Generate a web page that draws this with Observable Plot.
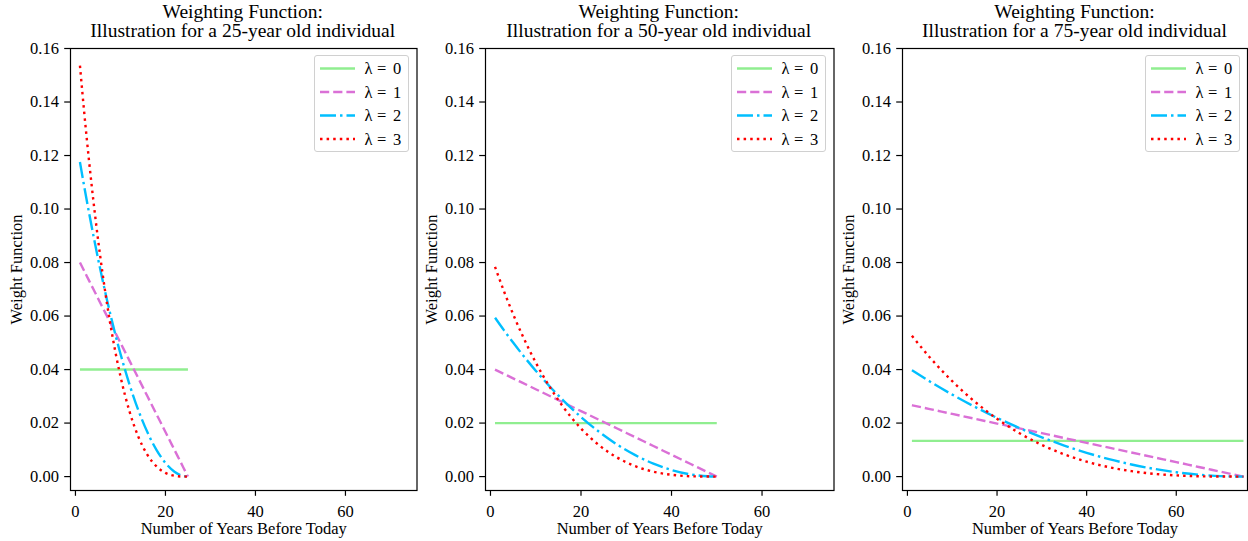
<!DOCTYPE html>
<html>
<head>
<meta charset="utf-8">
<script src="https://cdn.jsdelivr.net/npm/d3@7"></script>
<script src="https://cdn.jsdelivr.net/npm/@observablehq/plot@0.6"></script>
<style>
  html, body { margin: 0; padding: 0; background: #fff; }
  #root { position: relative; width: 1248px; height: 541px; overflow: hidden; font-family: "Liberation Serif", "DejaVu Serif", serif; }
  .title { position: absolute; text-align: center; font-size: 19.5px; line-height: 19px; color: #000; white-space: nowrap; }
  .legend { position: absolute; background: rgba(255,255,255,0.8); border: 1px solid #d0d0d0; border-radius: 3px; box-sizing: border-box; }
  svg { overflow: visible; }
</style>
</head>
<body>
<div id="root"></div>
<script>
// ---------------- data ----------------
const ages = [25, 50, 75];
const titles = [
  "Weighting Function:\nIllustration for a 25-year old individual",
  "Weighting Function:\nIllustration for a 50-year old individual",
  "Weighting Function:\nIllustration for a 75-year old individual"
];
const lambdaValues = ["0", "1", "2", "3"];
const lambdaColors = ["#90EE90", "#DA70D6", "#00BFFF", "#FF0000"];
const xTicks = [0, 20, 40, 60];
const yTicks = [0, 0.02, 0.04, 0.06, 0.08, 0.10, 0.12, 0.14, 0.16];

// 25-year old
const years25 = [1, 2, 3, 4, 5, 6, 7, 8, 10, 12, 14, 16, 18, 20, 22, 24, 25];
const w25_l0 = [0.04, 0.04, 0.04, 0.04, 0.04, 0.04, 0.04, 0.04, 0.04, 0.04, 0.04, 0.04, 0.04, 0.04, 0.04, 0.04, 0.04];
const w25_l1 = [0.0800, 0.07667, 0.07333, 0.0700, 0.06667, 0.06333, 0.0600, 0.05667, 0.0500, 0.04333, 0.03667, 0.0300, 0.02333, 0.01667, 0.0100, 0.00333, 0];
const w25_l2 = [0.11755, 0.10796, 0.09878, 0.0900, 0.08163, 0.07367, 0.06612, 0.05898, 0.04592, 0.03449, 0.02469, 0.01653, 0.0100, 0.0051, 0.00184, 0.0002, 0];
const w25_l3 = [0.1536, 0.13519, 0.11831, 0.1029, 0.08889, 0.07621, 0.0648, 0.05459, 0.0375, 0.02441, 0.01479, 0.0081, 0.00381, 0.00139, 0.0003, 0.00001, 0];

// 50-year old
const years50 = [1, 3, 5, 7, 10, 13, 16, 20, 24, 28, 32, 36, 40, 44, 48, 50];
const w50_l0 = [0.02, 0.02, 0.02, 0.02, 0.02, 0.02, 0.02, 0.02, 0.02, 0.02, 0.02, 0.02, 0.02, 0.02, 0.02, 0.02];
const w50_l1 = [0.0400, 0.03837, 0.03673, 0.0351, 0.03265, 0.0302, 0.02776, 0.02449, 0.02122, 0.01796, 0.01469, 0.01143, 0.00816, 0.0049, 0.00163, 0];
const w50_l2 = [0.05939, 0.05464, 0.05009, 0.04574, 0.03958, 0.03387, 0.0286, 0.02226, 0.01672, 0.01197, 0.00801, 0.00485, 0.00247, 0.00089, 0.0001, 0];
const w50_l3 = [0.0784, 0.06919, 0.06072, 0.05298, 0.04265, 0.03375, 0.02619, 0.01799, 0.01171, 0.0071, 0.00389, 0.00183, 0.00067, 0.00014, 0.00001, 0];

// 75-year old
const years75 = [1, 5, 10, 15, 20, 25, 30, 35, 40, 45, 50, 55, 60, 65, 70, 75];
const w75_l0 = [0.01333, 0.01333, 0.01333, 0.01333, 0.01333, 0.01333, 0.01333, 0.01333, 0.01333, 0.01333, 0.01333, 0.01333, 0.01333, 0.01333, 0.01333, 0.01333];
const w75_l1 = [0.02667, 0.02523, 0.02342, 0.02162, 0.01982, 0.01802, 0.01622, 0.01441, 0.01261, 0.01081, 0.00901, 0.00721, 0.00541, 0.0036, 0.0018, 0];
const w75_l2 = [0.03973, 0.03555, 0.03065, 0.02612, 0.02195, 0.01814, 0.01469, 0.01161, 0.00889, 0.00653, 0.00453, 0.0029, 0.00163, 0.00073, 0.00018, 0];
const w75_l3 = [0.05262, 0.04454, 0.03566, 0.02805, 0.0216, 0.01623, 0.01183, 0.00831, 0.00557, 0.00351, 0.00203, 0.00104, 0.00044, 0.00013, 0.00002, 0];

// ---------------- layout ----------------
const panelYears = [years25, years50, years75];
const panelSeries = [
  [w25_l0, w25_l1, w25_l2, w25_l3],
  [w50_l0, w50_l1, w50_l2, w50_l3],
  [w75_l0, w75_l1, w75_l2, w75_l3]
];
const frameLeft = [69.5, 484.5, 902];
const frameRight = [416, 833, 1247];
const dashes = [null, "9.2,4", "16,4,2.5,4", "2.5,4.1"];
const LW = 2.4;
const FS = 16.5;
const MT = 48, MB = 51, H = 541;

const root = document.getElementById("root");

panelYears.forEach((years, p) => {
  const svgLeft = frameLeft[p] - 70;
  const marginLeft = frameLeft[p] - svgLeft;
  const marginRight = 1;
  const width = frameRight[p] - svgLeft + marginRight;

  const marks = [];
  panelSeries[p].forEach((vals, s) => {
    const rows = years.map((yr, i) => ({year: yr, w: vals[i]}));
    marks.push(Plot.line(rows, {
      x: "year", y: "w",
      stroke: lambdaColors[s],
      strokeWidth: LW,
      strokeDasharray: dashes[s] || undefined,
      strokeLinecap: "butt",
      curve: "monotone-x"
    }));
  });

  const chart = Plot.plot({
    width, height: H,
    marginLeft, marginRight, marginTop: MT, marginBottom: MB,
    style: {fontFamily: "'Liberation Serif', serif", fontSize: FS + "px", color: "#000", background: "transparent", overflow: "visible"},
    x: {domain: [-1.1, 75.9]},
    y: {domain: [-0.0052, 0.16]},
    marks: [
      ...marks,
      Plot.axisX({ticks: xTicks, tickSize: 5.8, tickPadding: 8.6, fontSize: FS, strokeWidth: 1.2,
        label: "Number of Years Before Today", labelAnchor: "center", labelOffset: 43, labelArrow: "none"}),
      Plot.axisY({ticks: yTicks, tickFormat: d3.format(".2f"), tickSize: 5.8, tickPadding: 5.8, fontSize: FS, strokeWidth: 1.2,
        label: "Weight Function", labelAnchor: "center", labelOffset: 60, labelArrow: "none"}),
      Plot.frame({stroke: "#000", strokeWidth: 1.2})
    ]
  });
  chart.style.position = "absolute";
  chart.style.left = svgLeft + "px";
  chart.style.top = "0px";
  root.appendChild(chart);

  // title
  const t = document.createElement("div");
  t.className = "title";
  const cx = (frameLeft[p] + frameRight[p]) / 2;
  t.style.left = (cx - 200) + "px";
  t.style.width = "400px";
  t.style.top = "2px";
  t.innerHTML = titles[p].split("\n").join("<br>");
  root.appendChild(t);

  // legend
  const lg = document.createElement("div");
  lg.className = "legend";
  const lw = 95, lh = 97;
  lg.style.left = (frameRight[p] - 7 - lw) + "px";
  lg.style.top = (MT + 7) + "px";
  lg.style.width = lw + "px";
  lg.style.height = lh + "px";
  const ls = d3.select(lg).append("svg").attr("width", lw - 2).attr("height", lh - 2)
    .style("position", "absolute").style("left", "0px").style("top", "0px");
  lambdaValues.forEach((v, s) => {
    const yy = 12.5 + s * 23.5;
    const ln = ls.append("line").attr("x1", 5).attr("x2", 40).attr("y1", yy).attr("y2", yy)
      .attr("stroke", lambdaColors[s]).attr("stroke-width", LW);
    if (dashes[s]) ln.attr("stroke-dasharray", dashes[s]);
    const g = ls.append("g").attr("font-family", "'Liberation Serif', serif").attr("font-size", FS).attr("fill", "#000");
    g.append("text").attr("x", 49.5).attr("y", yy).attr("dy", "0.35em").text("λ");
    g.append("text").attr("x", 62).attr("y", yy).attr("dy", "0.35em").text("=");
    g.append("text").attr("x", 78).attr("y", yy).attr("dy", "0.35em").text(v);
  });
  root.appendChild(lg);
});
</script>
</body>
</html>
